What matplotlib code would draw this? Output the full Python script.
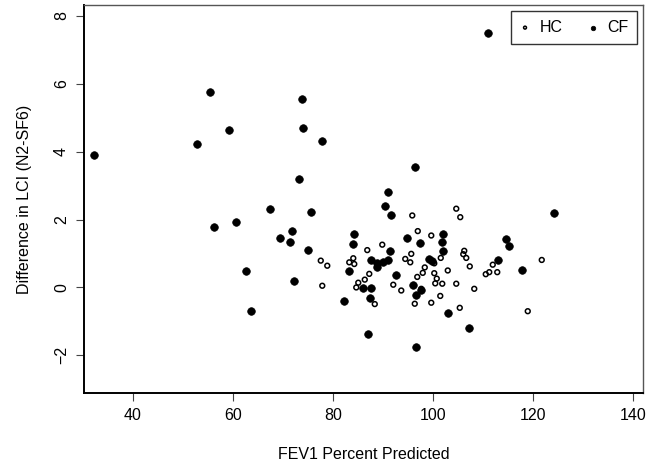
import numpy as np
import matplotlib.pyplot as plt

# FEV1 percent predicted vs difference in LCI
hc_fev1 = [77.6, 78.9, 77.9, 83.3, 84.1, 84.3, 84.7,
           95.9, 104.7, 105.5, 97.0, 99.7, 89.9, 86.9, 95.7, 94.5, 95.5,
           101.6, 100.3, 98.4, 98.0, 96.9, 100.3, 100.8, 100.5, 101.9, 103.0,
           106.3, 106.1, 106.7, 107.4, 104.7, 108.3, 101.5, 99.7, 96.4, 105.4,
           88.4, 87.3, 86.4, 85.1, 92.1, 93.7, 97.7, 110.6, 111.3, 112.0,
           112.9, 121.8, 119.0]
hc_dlci = [0.79, 0.64, 0.05, 0.74, 0.86, 0.69, 0.00,
           2.12, 2.32, 2.07, 1.66, 1.53, 1.26, 1.10, 0.99, 0.84, 0.74,
           0.87, 0.71, 0.59, 0.43, 0.31, 0.42, 0.26, 0.12, 0.11, 0.50,
           1.08, 0.98, 0.87, 0.62, 0.11, -0.04, -0.25, -0.45, -0.48, -0.60,
           -0.49, 0.40, 0.23, 0.14, 0.08, -0.09, -0.04, 0.39, 0.45, 0.67,
           0.45, 0.81, -0.70]

cf_fev1 = [32.3, 52.8, 55.5, 59.2, 73.8, 74.1, 77.9, 73.3, 96.5, 91.1, 111.0,
           56.3, 60.7, 67.5, 75.7, 69.5, 71.8, 71.5, 75.1, 62.7, 63.7, 72.3,
           82.3, 84.3, 84.1, 83.3, 90.5, 91.7, 102.1, 101.9, 102.1, 94.9, 97.4,
           91.4, 87.6, 88.8, 90.0, 91.1, 88.9, 99.3, 99.8, 92.6, 87.6, 86.1,
           87.5, 96.1, 97.7, 96.7, 103.0, 107.2, 87.1, 96.6, 114.7, 115.2,
           113.1, 117.8, 124.2]
cf_dlci = [3.90, 4.24, 5.75, 4.63, 5.54, 4.70, 4.32, 3.20, 3.55, 2.80, 7.49,
           1.78, 1.93, 2.31, 2.22, 1.45, 1.65, 1.35, 1.10, 0.47, -0.70, 0.18,
           -0.41, 1.58, 1.28, 0.49, 2.39, 2.12, 1.58, 1.35, 1.06, 1.45, 1.31,
           1.06, 0.81, 0.73, 0.76, 0.80, 0.59, 0.83, 0.79, 0.37, -0.01, -0.01,
           -0.30, 0.08, -0.07, -0.23, -0.75, -1.19, -1.38, -1.75, 1.44, 1.22,
           0.82, 0.52, 2.20]

xticks = [40, 60, 80, 100, 120, 140]
yticks = [-2, 0, 2, 4, 6, 8]

plt.rcParams['font.family'] = ['Liberation Sans', 'DejaVu Sans']

fig = plt.figure(figsize=(6.57, 4.65), dpi=100)
ax = fig.add_axes([0.1283, 0.1548, 0.85, 0.8344])

ax.scatter(cf_fev1, cf_dlci, s=30, c='black', edgecolors='black', linewidths=0.5,
           label='CF', zorder=3)
ax.scatter(hc_fev1, hc_dlci, s=12, facecolors='none', edgecolors='black', linewidths=1.1,
           label='HC', zorder=4)

ax.set_xlim(30.3, 142.0)
ax.set_ylim(-3.11, 8.32)
ax.set_xticks(xticks)
ax.set_yticks(yticks)
ax.tick_params(axis='both', direction='out', length=6, width=0.8, color='#444444',
               labelsize=11.5, pad=5)
for lab in ax.get_yticklabels():
    lab.set_rotation(90)
    lab.set_va('center')

for side in ['bottom', 'left']:
    ax.spines[side].set_linewidth(1.4)
    ax.spines[side].set_color('black')
for side in ['top', 'right']:
    ax.spines[side].set_linewidth(1.0)
    ax.spines[side].set_color('#555555')

ax.set_xlabel('FEV1 Percent Predicted', fontsize=11.5, labelpad=17)
ax.set_ylabel('Difference in LCI (N2-SF6)', fontsize=11.5, labelpad=16)

h, l = ax.get_legend_handles_labels()
leg = ax.legend(h[::-1], l[::-1], ncol=2, loc='upper right',
                bbox_to_anchor=(0.990, 0.9845), borderaxespad=0, fancybox=False,
                framealpha=1, edgecolor='#333333', fontsize=11.5, markerscale=0.6,
                handlelength=0.6, handletextpad=0.6, columnspacing=1.6,
                borderpad=0.55)
leg.get_frame().set_linewidth(1.0)

fig.savefig('out.png', dpi=100)
